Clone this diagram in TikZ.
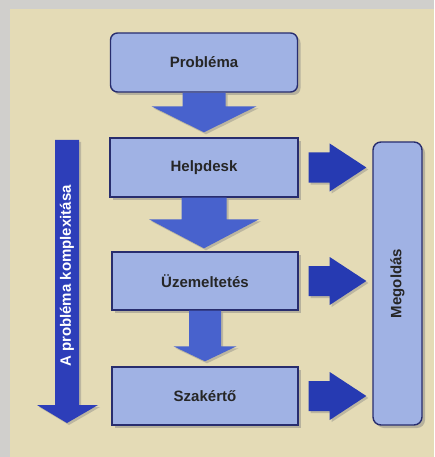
\documentclass[tikz,border=0pt]{standalone}
\usepackage{fontspec}
\setmainfont{Liberation Sans}
\usetikzlibrary{shadows,calc}
\definecolor{frameg}{RGB}{208,207,204}
\definecolor{panel}{RGB}{228,219,182}
\definecolor{boxfill}{RGB}{160,178,228}
\definecolor{boxline}{RGB}{40,45,110}
\definecolor{downblue}{RGB}{72,98,205}
\definecolor{rightblue}{RGB}{38,58,178}
\definecolor{leftblue}{RGB}{45,62,185}
\tikzset{
  stagebox/.style={draw=boxline, line width=1.4pt, fill=boxfill,
    font=\bfseries\fontsize{15}{17}\selectfont, text=black!85,
    drop shadow={shadow xshift=3pt, shadow yshift=-3pt, opacity=0.45}},
  blockarrow/.style={drop shadow={shadow xshift=2pt, shadow yshift=-2pt, opacity=0.4}},
}
\newcommand{\blkdown}[6]{% from, to, halfshaft, halfhead, headlen, gap
  \fill[blockarrow, fill=downblue] let \p1=(#1.south), \p2=(#2.north) in
    (\x1-#3pt,\y1) -- (\x1+#3pt,\y1) -- (\x1+#3pt,\y2+#6pt+#5pt)
    -- (\x1+#4pt,\y2+#6pt+#5pt) -- (\x1,\y2+#6pt) -- (\x1-#4pt,\y2+#6pt+#5pt)
    -- (\x1-#3pt,\y2+#6pt+#5pt) -- cycle;}
\newcommand{\blkright}[2]{% from, to
  \fill[blockarrow, fill=rightblue] let \p1=(#1.east), \p2=(#2.west) in
    (\x1+10pt,\y1+15pt) -- (\x1+31pt,\y1+15pt) -- (\x1+31pt,\y1+24pt)
    -- (\x2-6pt,\y1) -- (\x1+31pt,\y1-24pt) -- (\x1+31pt,\y1-15pt)
    -- (\x1+10pt,\y1-15pt) -- cycle;}
\begin{document}
\begin{tikzpicture}[x=1pt,y=-1pt]
\useasboundingbox (0,0) rectangle (434,457);
\fill[frameg] (0,0) rectangle (434,457);
\fill[panel] (10,9) rectangle (434,457);

\node[stagebox, rounded corners=7pt, minimum width=187pt, minimum height=59pt] (prob) at (204,62.5) {Probléma};
\node[stagebox, minimum width=188pt, minimum height=59pt] (help) at (204,167.5) {Helpdesk};
\node[stagebox, minimum width=186pt, minimum height=58pt] (uzem) at (205,281) {Üzemeltetés};
\node[stagebox, minimum width=186pt, minimum height=58pt] (szak) at (205,396) {Szakértő};
\node[stagebox, rounded corners=8pt, minimum width=49pt, minimum height=283pt] (meg) at (397.5,283.5) {};
\node[rotate=90, font=\bfseries\fontsize{15}{17}\selectfont, text=black!85] (megtext) at (meg.center) {Megoldás};

\blkdown{prob}{help}{21.5}{52.5}{26}{5}
\blkdown{help}{uzem}{22.5}{55}{29}{3}
\blkdown{uzem}{szak}{16}{31.5}{15}{5}

\blkright{help}{meg}
\blkright{uzem}{meg}
\blkright{szak}{meg}

\coordinate (ltop) at (67,140);
\coordinate (ltip) at (67,423);
\fill[blockarrow, fill=leftblue] let \p1=(ltop), \p2=(ltip) in
  (\x1-12pt,\y1) -- (\x1+12pt,\y1) -- (\x1+12pt,\y2+18pt) -- (\x1+31pt,\y2+18pt)
  -- (\x2,\y2) -- (\x1-30pt,\y2+18pt) -- (\x1-12pt,\y2+18pt) -- cycle;
\node[rotate=90, text=white, font=\bfseries\fontsize{15}{17}\selectfont] (ltext) at (67,276) {A probléma komplexitása};
\end{tikzpicture}
\end{document}
